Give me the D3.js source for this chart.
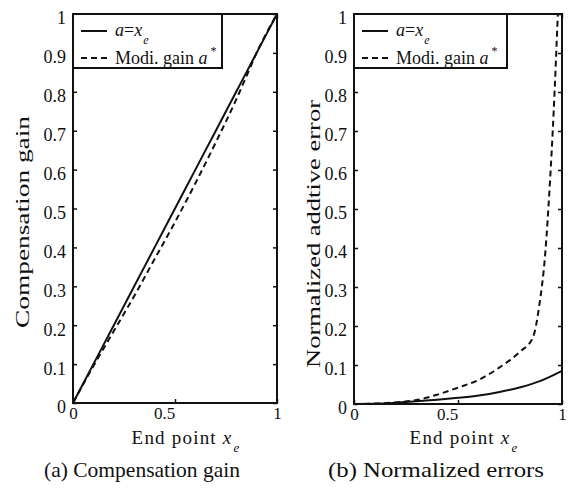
<!DOCTYPE html>
<html>
<head>
<meta charset="utf-8">
<script src="https://cdn.jsdelivr.net/npm/d3@7"></script>
<style>
  body { margin: 0; background: #fff; }
  svg text { font-family: "Liberation Serif", "DejaVu Serif", serif; fill: #111; }
</style>
</head>
<body>
<div id="chart"></div>
<script>
// Panel (a): compensation gain
const gainX = [0, 0.1, 0.2, 0.3, 0.4, 0.5, 0.6, 0.7, 0.8, 0.85, 0.9, 1];
const gainSolid = [0, 0.1, 0.2, 0.3, 0.4, 0.5, 0.6, 0.7, 0.8, 0.85, 0.9, 1];
const gainModi = [0, 0.095, 0.185, 0.275, 0.37, 0.465, 0.565, 0.67, 0.78, 0.84, 0.9, 1];

// Panel (b): normalized additive error
const errX = [0, 0.1, 0.2, 0.3, 0.4, 0.5, 0.6, 0.7, 0.8, 0.9, 1];
const errSolid = [0, 0.0005, 0.003, 0.007, 0.011, 0.016, 0.022, 0.031, 0.043, 0.06, 0.085];
const modiX = [0, 0.1, 0.2, 0.3, 0.4, 0.5, 0.6, 0.7, 0.8, 0.86, 0.89, 0.92, 0.94, 0.96, 0.98];
const errModi = [0, 0.001, 0.004, 0.01, 0.024, 0.042, 0.062, 0.094, 0.135, 0.17, 0.25, 0.39, 0.55, 0.75, 1.0];

const yTicks = [0, 0.1, 0.2, 0.3, 0.4, 0.5, 0.6, 0.7, 0.8, 0.9, 1];
const xTicks = [0, 0.5, 1];

const width = 573, height = 489;
const svg = d3.select('#chart').append('svg')
    .attr('width', width)
    .attr('height', height);

function drawPanel(opts) {
    const x = d3.scaleLinear().domain([0, 1]).range([opts.left, opts.right]);
    const y = d3.scaleLinear().domain([0, 1]).range([opts.bottom, opts.top]);
    const g = svg.append('g');

    const tickFmt = d => d === 0 || d === 1 ? String(d) : d3.format('.1f')(d);

    // left axis with inward ticks
    g.append('g')
        .attr('transform', `translate(${opts.left},0)`)
        .call(d3.axisLeft(y).tickValues(yTicks).tickFormat(tickFmt).tickSizeInner(-4).tickSizeOuter(0).tickPadding(7))
        .call(a => a.select('.domain').remove())
        .call(a => a.selectAll('line').attr('stroke', '#111').attr('stroke-width', 1.5))
        .call(a => a.selectAll('text').attr('font-size', '18px').attr('dy', '0.55em'));
    // right ticks
    g.append('g')
        .attr('transform', `translate(${opts.right},0)`)
        .call(d3.axisRight(y).tickValues(yTicks).tickFormat('').tickSizeInner(-4).tickSizeOuter(0))
        .call(a => a.select('.domain').remove())
        .call(a => a.selectAll('line').attr('stroke', '#111').attr('stroke-width', 1.5));
    // bottom axis
    g.append('g')
        .attr('transform', `translate(0,${opts.bottom})`)
        .call(d3.axisBottom(x).tickValues(xTicks).tickFormat(tickFmt).tickSizeInner(-4).tickSizeOuter(0).tickPadding(4))
        .call(a => a.select('.domain').remove())
        .call(a => a.selectAll('line').attr('stroke', '#111').attr('stroke-width', 1.5))
        .call(a => a.selectAll('text').attr('font-size', '17px')
            .attr('dx', d => d === 0.5 ? -11 : 0));
    // top ticks
    g.append('g')
        .attr('transform', `translate(0,${opts.top})`)
        .call(d3.axisTop(x).tickValues(xTicks).tickFormat('').tickSizeInner(-4).tickSizeOuter(0))
        .call(a => a.select('.domain').remove())
        .call(a => a.selectAll('line').attr('stroke', '#111').attr('stroke-width', 1.5));

    // lines
    const line = d3.line().curve(d3.curveMonotoneX).x(d => x(d[0])).y(d => y(d[1]));
    g.append('path')
        .datum(opts.solidX.map((v, i) => [v, opts.solidY[i]]))
        .attr('fill', 'none').attr('stroke', '#111').attr('stroke-width', 2)
        .attr('d', line);
    g.append('path')
        .datum(opts.dashX.map((v, i) => [v, opts.dashY[i]]))
        .attr('fill', 'none').attr('stroke', '#111').attr('stroke-width', 2)
        .attr('stroke-dasharray', '6,4')
        .attr('d', line);

    // box
    g.append('rect')
        .attr('x', opts.left).attr('y', opts.top)
        .attr('width', opts.right - opts.left).attr('height', opts.bottom - opts.top)
        .attr('fill', 'none').attr('stroke', '#111').attr('stroke-width', 2);

    // legend
    const lg = g.append('g').attr('transform', `translate(${opts.left},${opts.top})`);
    lg.append('rect')
        .attr('width', opts.legendW).attr('height', 54)
        .attr('fill', '#fff').attr('stroke', '#111').attr('stroke-width', 2);
    lg.append('line').attr('x1', 8).attr('x2', 34).attr('y1', 17).attr('y2', 17)
        .attr('stroke', '#111').attr('stroke-width', 2);
    lg.append('line').attr('x1', 8).attr('x2', 34).attr('y1', 44).attr('y2', 44)
        .attr('stroke', '#111').attr('stroke-width', 2).attr('stroke-dasharray', '6,4');
    const t1 = lg.append('text').attr('x', 42).attr('y', 22).attr('font-size', '18px');
    t1.append('tspan').attr('font-style', 'italic').text('a');
    t1.append('tspan').text('=');
    t1.append('tspan').attr('font-style', 'italic').text('x');
    t1.append('tspan').attr('font-style', 'italic').attr('font-size', '12px').attr('dy', 8).attr('dx', 1).text('e');
    const t2 = lg.append('text').attr('x', 42).attr('y', 50).attr('font-size', '18px');
    t2.append('tspan').text('Modi. gain ');
    t2.append('tspan').attr('font-style', 'italic').text('a');
    t2.append('tspan').attr('font-size', '12px').attr('dy', -9).attr('dx', 3).text('*');

    // y label
    svg.append('text')
        .attr('transform', `translate(${opts.ylabX},${opts.ylabY}) rotate(-90)`)
        .attr('text-anchor', 'middle')
        .attr('font-size', '18px')
        .attr('textLength', opts.ylabLen)
        .attr('lengthAdjust', 'spacingAndGlyphs')
        .text(opts.ylabel);

    // x label
    const xl = svg.append('text')
        .attr('x', opts.xlabX).attr('y', 444)
        .attr('text-anchor', 'middle')
        .attr('font-size', '19px')
        .attr('letter-spacing', '1.2px');
    xl.append('tspan').text('End point ');
    xl.append('tspan').attr('font-style', 'italic').text('x');
    xl.append('tspan').attr('font-style', 'italic').attr('font-size', '13px').attr('dy', 8).attr('dx', 1).text('e');

    // caption
    svg.append('text')
        .attr('x', opts.capX).attr('y', 477)
        .attr('text-anchor', 'middle')
        .attr('font-size', '21px')
        .attr('textLength', opts.capLen)
        .attr('lengthAdjust', 'spacingAndGlyphs')
        .text(opts.caption);
}

drawPanel({
    left: 73, right: 277, top: 14, bottom: 403,
    solidX: gainX, solidY: gainSolid, dashX: gainX, dashY: gainModi,
    legendW: 149, ylabel: 'Compensation gain', ylabX: 29, ylabY: 222, ylabLen: 212,
    xlabX: 186, capX: 142, capLen: 196,
    caption: '(a) Compensation gain'
});

drawPanel({
    left: 354, right: 562, top: 14, bottom: 404,
    solidX: errX, solidY: errSolid, dashX: modiX, dashY: errModi,
    legendW: 153, ylabel: 'Normalized addtive error', ylabX: 320, ylabY: 234, ylabLen: 268,
    xlabX: 464, capX: 436, capLen: 216,
    caption: '(b) Normalized errors'
});
</script>
</body>
</html>
